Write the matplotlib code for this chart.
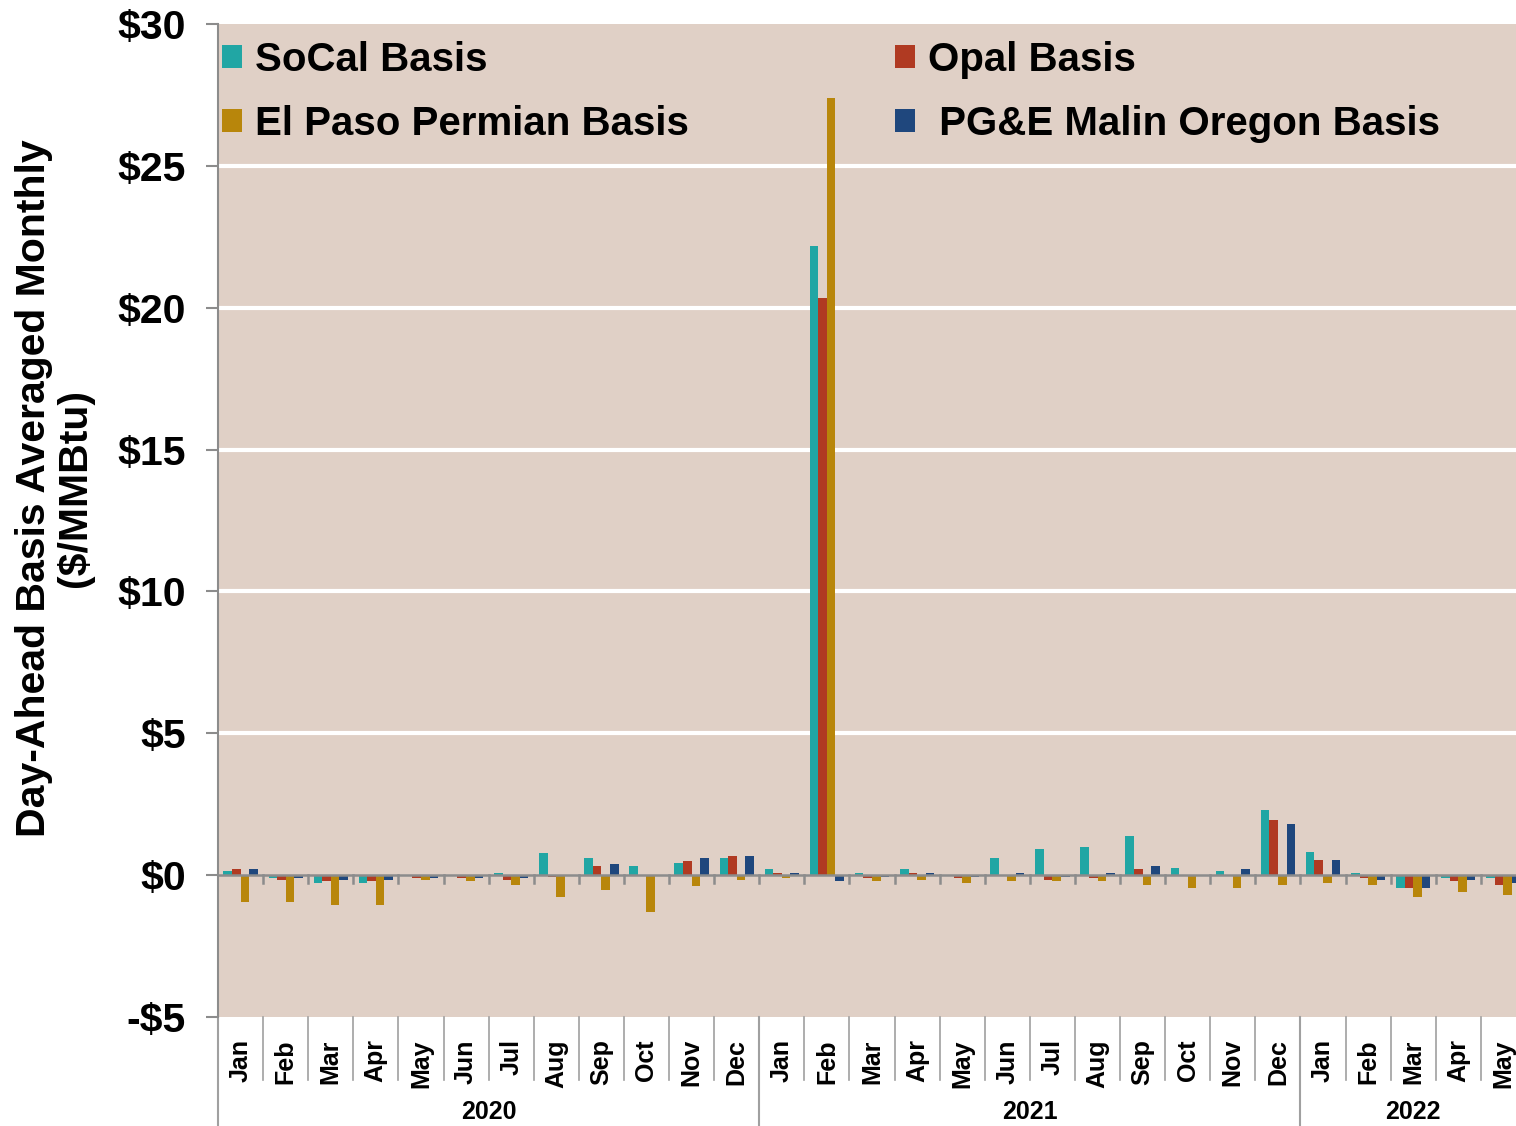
import matplotlib
matplotlib.use("Agg")
import matplotlib.pyplot as plt
from matplotlib.patches import Patch
import numpy as np

plt.rcParams['font.family'] = ['Liberation Sans', 'DejaVu Sans']
plt.rcParams['font.weight'] = 'bold'

years = ['2020', '2021', '2022']
months_per_year = [12, 12, 5]
month_names = ['Jan', 'Feb', 'Mar', 'Apr', 'May', 'Jun',
               'Jul', 'Aug', 'Sep', 'Oct', 'Nov', 'Dec']
months = month_names + month_names + month_names[:5]

socal = [0.13, -0.09, -0.28, -0.28, -0.03, 0.02, 0.07, 0.79, 0.61, 0.32, 0.44, 0.61,
         0.20, 22.17, 0.07, 0.20, -0.03, 0.62, 0.92, 0.98, 1.37, 0.26, 0.14, 2.29,
         0.80, 0.07, -0.47, -0.09, -0.09]
opal = [0.20, -0.16, -0.21, -0.21, -0.09, -0.09, -0.16, -0.06, 0.32, -0.02, 0.49, 0.68,
        0.07, 20.34, -0.09, 0.07, -0.09, -0.03, -0.16, -0.09, 0.20, -0.03, -0.03, 1.94,
        0.55, -0.09, -0.47, -0.22, -0.35]
elpaso = [-0.94, -0.94, -1.06, -1.06, -0.16, -0.21, -0.33, -0.76, -0.52, -1.31, -0.40, -0.16,
          -0.09, 27.39, -0.21, -0.16, -0.28, -0.21, -0.21, -0.21, -0.33, -0.47, -0.47, -0.35,
          -0.28, -0.35, -0.76, -0.59, -0.70]
pge = [0.20, -0.09, -0.16, -0.16, -0.09, -0.09, -0.09, -0.03, 0.38, -0.03, 0.62, 0.68,
       0.07, -0.21, -0.05, 0.07, -0.05, 0.07, -0.05, 0.07, 0.32, -0.03, 0.20, 1.82,
       0.55, -0.18, -0.47, -0.18, -0.28]

series = [socal, opal, elpaso, pge]
names = ['SoCal Basis', 'Opal Basis', 'El Paso Permian Basis', ' PG&E Malin Oregon Basis']
colors = ['#21A6A4', '#B03A22', '#B8860B', '#1F477D']

yticks = [-5, 0, 5, 10, 15, 20, 25, 30]

W, H = 1516, 1126
fig = plt.figure(figsize=(W / 100, H / 100), dpi=100)
left, right, top, bottom = 218, 1526, 24, 1017
ax = fig.add_axes([left / W, 1 - bottom / H, (right - left) / W, (bottom - top) / H])
ax.set_facecolor('#E0D0C6')

n = len(months)
x = np.arange(n)
bw = 0.19
for k, (vals, c) in enumerate(zip(series, colors)):
    ax.bar(x + (k - 1.5) * bw, vals, width=bw, color=c, edgecolor='none', zorder=3)

ax.set_xlim(-0.5, n - 0.5)
ax.set_ylim(-5, 30)
ax.set_yticks(yticks)
ax.set_yticklabels([('-$%d' % -v) if v < 0 else ('$%d' % v) for v in yticks], fontsize=29.5)
for v in yticks[2:-1]:
    ax.axhline(v, color='white', lw=3, zorder=1)
ax.axhline(0, color='#8C8C8C', lw=1.8, zorder=4)

for s in ['top', 'right', 'bottom']:
    ax.spines[s].set_visible(False)
ax.spines['left'].set_color('#8C8C8C')
ax.spines['left'].set_linewidth(1.5)
ax.tick_params(axis='y', length=9, width=1.5, color='#8C8C8C', pad=14)

# month labels
ax.set_xticks(x)
ax.set_xticklabels(months, rotation=90, fontsize=18)
ax.tick_params(axis='x', length=0, pad=16)

# small ticks on the zero line between months
for b in np.arange(0.5, n - 0.5, 1.0):
    ax.plot([b, b], [0, -0.28], color='#8C8C8C', lw=1.8, zorder=4)

# category separators below the plot
trans = ax.get_xaxis_transform()
px = 1.0 / (bottom - top)
year_edges = np.cumsum([0] + months_per_year) - 0.5
for b in np.arange(0.5, n - 0.5, 1.0):
    if b in year_edges:
        continue
    ax.plot([b, b], [0, -63 * px], color='#A0A0A0', lw=1.2, transform=trans, clip_on=False)
for b in year_edges[:-1]:
    ax.plot([b, b], [0, -115 * px], color='#A0A0A0', lw=1.5, transform=trans, clip_on=False)
for i, yr in enumerate(years):
    c = (year_edges[i] + year_edges[i + 1]) / 2
    ax.text(c, -95 * px, yr, transform=trans, ha='center', va='center', fontsize=18)

fig.text(55 / W, 1 - 488 / H, 'Day-Ahead Basis Averaged Monthly\n($/MMBtu)',
         rotation=90, ha='center', va='center', fontsize=29.5, linespacing=1.1)

handles = [Patch(facecolor=colors[i], edgecolor='none') for i in [0, 2, 1, 3]]
labels = [names[i] for i in [0, 2, 1, 3]]
fig.legend(handles, labels, loc='upper left', bbox_to_anchor=(222 / W, 1 - 41 / H),
           ncol=2, frameon=False, fontsize=29, handlelength=0.5, handleheight=0.5,
           handletextpad=0.33, labelspacing=0.65, columnspacing=5.1, borderpad=0,
           borderaxespad=0)

fig.savefig('out.png', dpi=100)
